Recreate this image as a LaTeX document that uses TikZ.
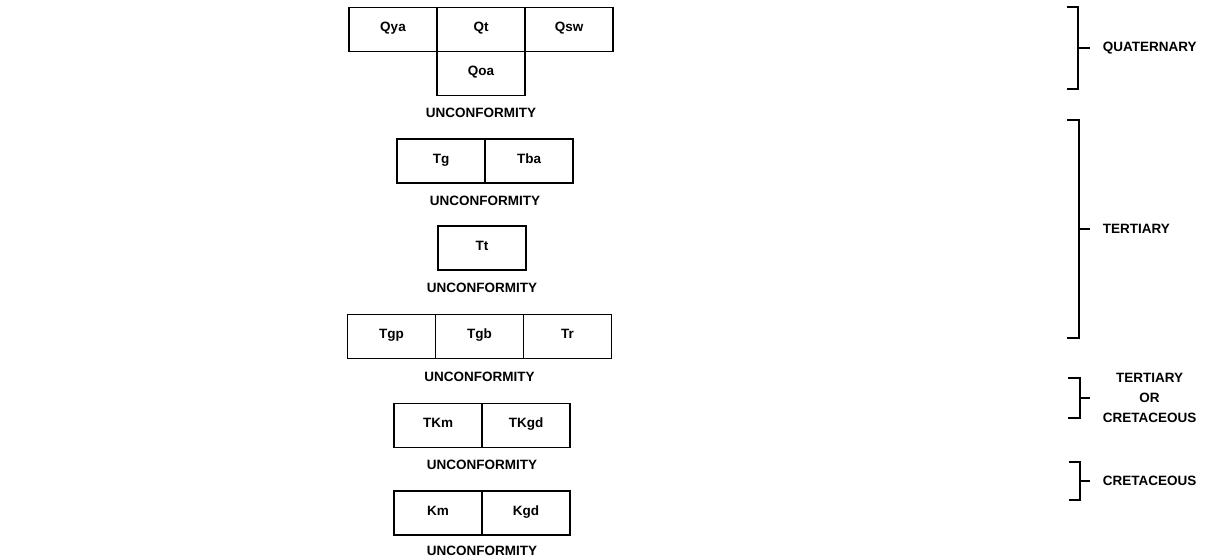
\documentclass[tikz,border=0pt]{standalone}
\usepackage{fontspec}
\setmainfont{Liberation Sans}
\usetikzlibrary{positioning}
\begin{document}
\begin{tikzpicture}[x=1pt,y=-1pt,
    unit/.style={draw, line width=1.6pt, minimum width=88pt, minimum height=44pt,
      inner sep=0pt, outer sep=0pt, text height=9.7pt, text depth=5pt,
      font=\fontsize{13.5}{15}\selectfont\bfseries},
    uncon/.style={inner sep=0pt, font=\fontsize{13.5}{15}\selectfont\bfseries},
    bracket/.style={line width=1.6pt},
    period/.style={anchor=west, xshift=12pt, inner sep=0pt, align=center,
      font=\fontsize{13.5}{20}\selectfont\bfseries}]
  \useasboundingbox (0,0) rectangle (1221,557);
  \node[unit] (qt) at (481,29.5) {Qt};
  \node[unit, left=0pt of qt] (qya) {Qya};
  \node[unit, right=0pt of qt] (qsw) {Qsw};
  \node[unit, below=0pt of qt] (qoa) {Qoa};
  \node[uncon, below=12pt of qoa] (unc1) {UNCONFORMITY};
  \node[unit] (tg) at (441,161) {Tg};
  \node[unit, right=0pt of tg] (tba) {Tba};
  \node[uncon, below=13pt of tg.south east] (unc2) {UNCONFORMITY};
  \node[unit] (tt) at (482,248) {Tt};
  \node[uncon, below=13pt of tt] (unc3) {UNCONFORMITY};
  \node[unit] (tgb) at (479.5,336.5) {Tgb};
  \node[unit, left=0pt of tgb] (tgp) {Tgp};
  \node[unit, right=0pt of tgb] (tr) {Tr};
  \node[uncon, below=13pt of tgb] (unc4) {UNCONFORMITY};
  \node[unit] (tkm) at (438,425.5) {TKm};
  \node[unit, right=0pt of tkm] (tkgd) {TKgd};
  \node[uncon, below=12pt of tkm.south east] (unc5) {UNCONFORMITY};
  \node[unit] (km) at (438,513) {Km};
  \node[unit, right=0pt of km] (kgd) {Kgd};
  \node[uncon, below=10.5pt of km.south east] (unc6) {UNCONFORMITY};
  \draw[bracket] (1067,7) -- (1078,7) -- (1078,89) -- (1067,89);
  \draw[bracket] (1078,48) -- (1090,48) node[period] (quat) {QUATERNARY};
  \draw[bracket] (1067,120) -- (1079,120) -- (1079,338) -- (1067,338);
  \draw[bracket] (1079,229) -- (1090,229) node[period] (tert) {TERTIARY};
  \draw[bracket] (1068,378) -- (1080,378) -- (1080,418) -- (1068,418);
  \draw[bracket] (1080,398) -- (1090,398) node[period] (torc) {TERTIARY\\OR\\CRETACEOUS};
  \draw[bracket] (1069,462) -- (1080,462) -- (1080,500) -- (1069,500);
  \draw[bracket] (1080,481) -- (1090,481) node[period] (cret) {CRETACEOUS};
\end{tikzpicture}
\end{document}
